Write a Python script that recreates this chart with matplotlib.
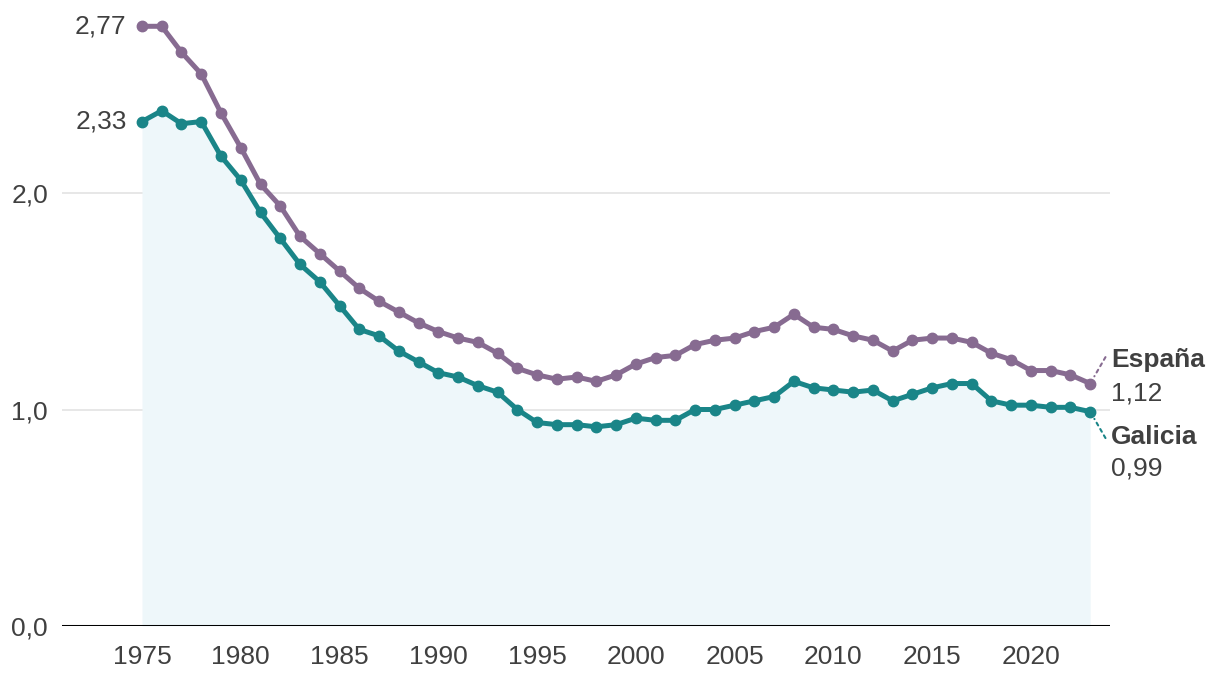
import matplotlib
matplotlib.use("Agg")
from matplotlib import pyplot as plt

plt.rcParams['font.family'] = ['Liberation Sans', 'DejaVu Sans']

years = list(range(1975, 2024))
espana = [2.77, 2.77, 2.65, 2.55, 2.37, 2.21, 2.04, 1.94, 1.80, 1.72,
          1.64, 1.56, 1.50, 1.45, 1.40, 1.36, 1.33, 1.31, 1.26, 1.19,
          1.16, 1.14, 1.15, 1.13, 1.16, 1.21, 1.24, 1.25, 1.30, 1.32,
          1.33, 1.36, 1.38, 1.44, 1.38, 1.37, 1.34, 1.32, 1.27, 1.32,
          1.33, 1.33, 1.31, 1.26, 1.23, 1.18, 1.18, 1.16, 1.12]
galicia = [2.33, 2.38, 2.32, 2.33, 2.17, 2.06, 1.91, 1.79, 1.67, 1.59,
           1.48, 1.37, 1.34, 1.27, 1.22, 1.17, 1.15, 1.11, 1.08, 1.00,
           0.94, 0.93, 0.93, 0.92, 0.93, 0.96, 0.95, 0.95, 1.00, 1.00,
           1.02, 1.04, 1.06, 1.13, 1.10, 1.09, 1.08, 1.09, 1.04, 1.07,
           1.10, 1.12, 1.12, 1.04, 1.02, 1.02, 1.01, 1.01, 0.99]
xticks = list(range(1975, 2021, 5))

purple = '#876b91'
teal = '#1a8588'
txt = '#404040'
fs = 19

fig = plt.figure(figsize=(12.2, 6.8), dpi=100)
ax = fig.add_axes([0.0508, 0.0794, 0.859, 0.9074])

ax.fill_between(years, 0, galicia, color='#eef7fa', lw=0, zorder=1)
for v in [1.0, 2.0]:
    ax.axhline(v, color='#e3e3e3', lw=1.2, zorder=0)
ax.axhline(0, color='black', lw=2.2, zorder=5)

ax.plot(years, espana, color=purple, lw=3.6, marker='o', ms=7.5, zorder=3)
ax.plot(years, galicia, color=teal, lw=3.6, marker='o', ms=7.5, zorder=4)

ax.set_xlim(1970.95, 2024.0)
ax.set_ylim(0, 2.85)
for s in ax.spines.values():
    s.set_visible(False)
ax.set_xticks(xticks)
ax.set_xticklabels([str(x) for x in xticks])
ax.set_yticks([0, 1, 2])
ax.set_yticklabels(['0,0', '1,0', '2,0'])
ax.tick_params(length=0, labelsize=fs, colors=txt)
ax.tick_params(axis='x', pad=14)
ax.tick_params(axis='y', pad=10)

# start labels
ax.annotate('2,77', (years[0], espana[0]), xytext=(-11, 0), textcoords='offset points',
            ha='right', va='center', fontsize=fs, color=txt)
ax.annotate('2,33', (years[0], galicia[0]), xytext=(-11, 0), textcoords='offset points',
            ha='right', va='center', fontsize=fs, color=txt)

# end labels with dotted connectors
ax.annotate('', xy=(years[-1], espana[-1]), xytext=(11, 19), textcoords='offset points',
            arrowprops=dict(arrowstyle='-', color=purple, ls=(0, (1.5, 2)), lw=1.5,
                            shrinkA=0, shrinkB=6))
ax.annotate('', xy=(years[-1], galicia[-1]), xytext=(11, -19), textcoords='offset points',
            arrowprops=dict(arrowstyle='-', color=teal, ls=(0, (1.5, 2)), lw=1.5,
                            shrinkA=0, shrinkB=6))
ax.annotate('España', (years[-1], espana[-1]), xytext=(15, 17), textcoords='offset points',
            ha='left', va='center', fontsize=fs, fontweight='bold', color=txt,
            annotation_clip=False)
ax.annotate('1,12', (years[-1], espana[-1]), xytext=(15, -7), textcoords='offset points',
            ha='left', va='center', fontsize=fs, color=txt, annotation_clip=False)
ax.annotate('Galicia', (years[-1], galicia[-1]), xytext=(15, -18), textcoords='offset points',
            ha='left', va='center', fontsize=fs, fontweight='bold', color=txt,
            annotation_clip=False)
ax.annotate('0,99', (years[-1], galicia[-1]), xytext=(15, -41), textcoords='offset points',
            ha='left', va='center', fontsize=fs, color=txt, annotation_clip=False)

fig.savefig('out.png', dpi=100)
